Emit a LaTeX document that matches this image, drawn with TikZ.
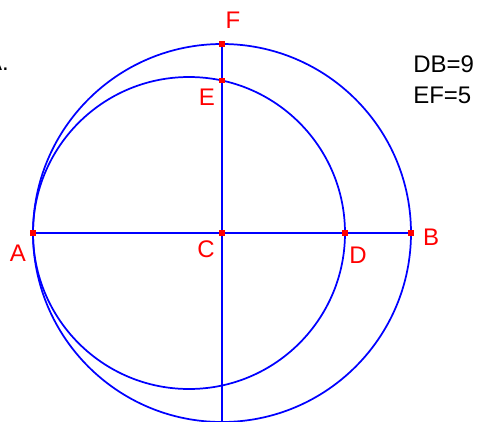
\documentclass[tikz,border=0pt]{standalone}
\usepackage{fontspec}
\setmainfont{Liberation Sans}
\begin{document}
\begin{tikzpicture}[x=0.75pt,y=-0.75pt,
  ln/.style={draw=blue,line width=1.3pt},
  pt/.style={fill=red,minimum size=3.8pt,inner sep=0pt,draw=none,rectangle},
  lab/.style={text=red,font=\fontsize{18}{18}\selectfont,inner sep=0pt},
  txt/.style={text=black,font=\fontsize{18}{18}\selectfont,inner sep=0pt,anchor=west}]
\useasboundingbox (0,0) rectangle (481,421);
\coordinate (A) at (33,233);
\coordinate (B) at (411,233);
\coordinate (C) at (222,233);
\coordinate (D) at (345,233);
\coordinate (F) at (222,44);
\coordinate (E) at (222,80.5);
\coordinate (O) at (189,233);
\coordinate (Bot) at (222,422);
\draw[ln] (C) circle[radius=189];
\draw[ln] (O) circle[radius=156];
\draw[ln] (A) -- (B);
\draw[ln] (F) -- (Bot);
\foreach \p in {A,B,C,D,E,F} \node[pt] at (\p) {};
\node[lab] (lF) at (233,20) {F};
\node[lab] (lE) at (207,97) {E};
\node[lab] (lA) at (18,253) {A};
\node[lab] (lC) at (206,249) {C};
\node[lab] (lD) at (358,255) {D};
\node[lab] (lB) at (431,237) {B};
\node[txt] (t1) at (413,64) {DB=9};
\node[txt] (t2) at (413,95) {EF=5};
\node[text=black,font=\fontsize{18}{18}\selectfont,inner sep=0pt,anchor=east] (t0) at (9,62) {A.};
\end{tikzpicture}
\end{document}
